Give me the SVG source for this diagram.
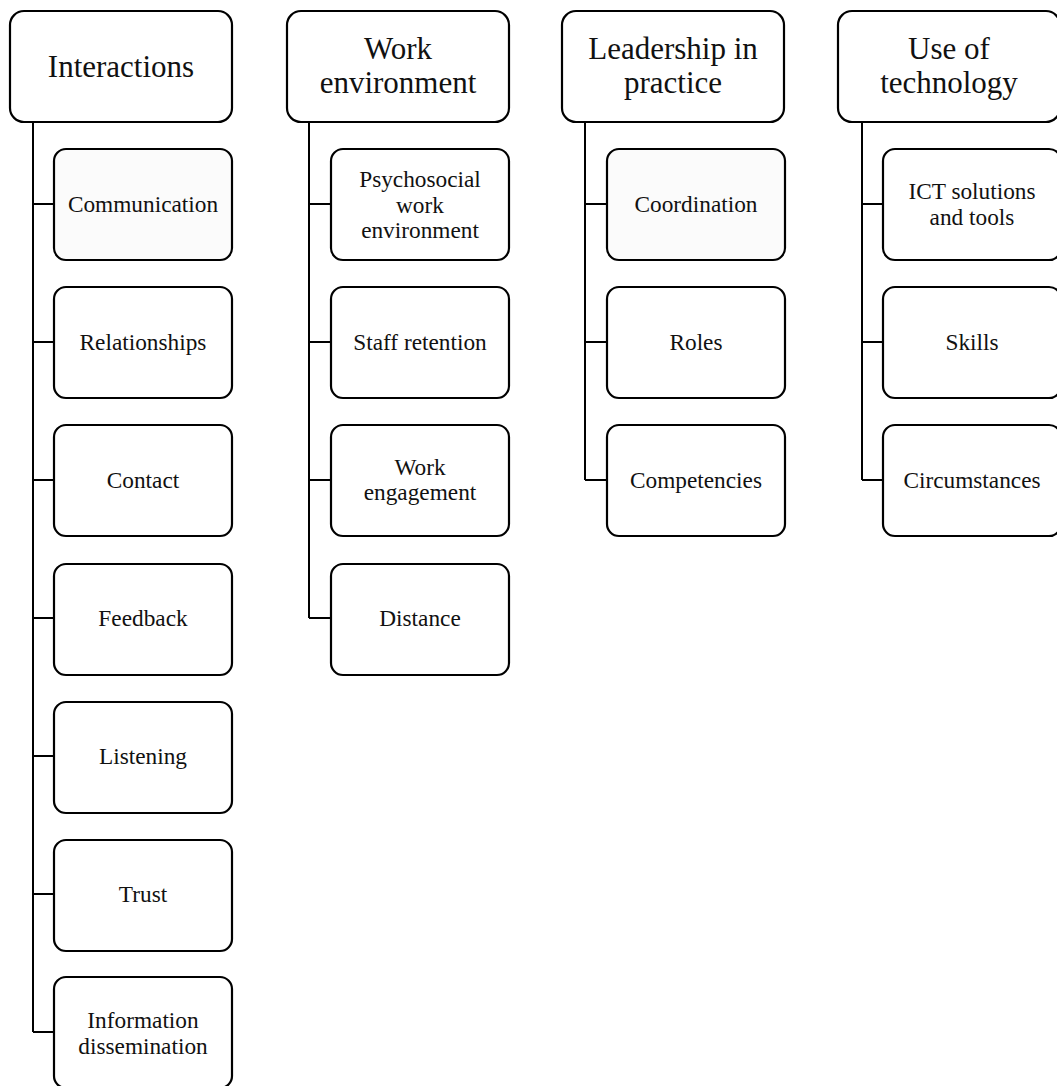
<svg xmlns="http://www.w3.org/2000/svg" width="1057" height="1086" viewBox="0 0 1057 1086">
<style>
.hd{fill:#fff;stroke:#000;stroke-width:2.2}
.ch{fill:#fff;stroke:#000;stroke-width:2.2}
.sh{fill:#fbfbfb}
.ht{font-family:"Liberation Serif","Times New Roman",serif;font-size:31px;fill:#111;text-anchor:middle}
.ct{font-family:"Liberation Serif","Times New Roman",serif;font-size:23.3px;fill:#111;text-anchor:middle}
.cn{fill:none;stroke:#000;stroke-width:2}
</style>
<rect width="1057" height="1086" fill="#fff"/>
<g id="connectors">
<path class="cn" d="M33 122V1032M33 204H54M33 342H54M33 480H54M33 618H54M33 756H54M33 894H54M33 1032H54"/>
<path class="cn" d="M309 122V618M309 204H331M309 342H331M309 480H331M309 618H331"/>
<path class="cn" d="M585 122V480M585 204H607M585 342H607M585 480H607"/>
<path class="cn" d="M862 122V480M862 204H883M862 342H883M862 480H883"/>
</g>
<g id="h-interactions"><rect class="hd" x="10" y="11" width="222" height="111" rx="14"/><text class="ht" x="121" y="77">Interactions</text></g>
<g id="h-work"><rect class="hd" x="287" y="11" width="222" height="111" rx="14"/><text class="ht" x="398" y="59">Work</text><text class="ht" x="398" y="92.5">environment</text></g>
<g id="h-leadership"><rect class="hd" x="562" y="11" width="222" height="111" rx="14"/><text class="ht" x="673" y="59">Leadership in</text><text class="ht" x="673" y="92.5">practice</text></g>
<g id="h-technology"><rect class="hd" x="838" y="11" width="222" height="111" rx="14"/><text class="ht" x="949" y="59">Use of</text><text class="ht" x="949" y="92.5">technology</text></g>

<g id="c-communication"><rect class="ch sh" x="54" y="149" width="178" height="111" rx="12"/><text class="ct" x="143" y="212">Communication</text></g>
<g id="c-relationships"><rect class="ch" x="54" y="287" width="178" height="111" rx="12"/><text class="ct" x="143" y="350">Relationships</text></g>
<g id="c-contact"><rect class="ch" x="54" y="425" width="178" height="111" rx="12"/><text class="ct" x="143" y="488">Contact</text></g>
<g id="c-feedback"><rect class="ch" x="54" y="564" width="178" height="111" rx="12"/><text class="ct" x="143" y="626">Feedback</text></g>
<g id="c-listening"><rect class="ch" x="54" y="702" width="178" height="111" rx="12"/><text class="ct" x="143" y="764">Listening</text></g>
<g id="c-trust"><rect class="ch" x="54" y="840" width="178" height="111" rx="12"/><text class="ct" x="143" y="902">Trust</text></g>
<g id="c-information"><rect class="ch" x="54" y="977" width="178" height="111" rx="12"/><text class="ct" x="143" y="1028">Information</text><text class="ct" x="143" y="1054">dissemination</text></g>

<g id="c-psychosocial"><rect class="ch" x="331" y="149" width="178" height="111" rx="12"/><text class="ct" x="420" y="187">Psychosocial</text><text class="ct" x="420" y="212.5">work</text><text class="ct" x="420" y="238">environment</text></g>
<g id="c-staff"><rect class="ch" x="331" y="287" width="178" height="111" rx="12"/><text class="ct" x="420" y="350">Staff retention</text></g>
<g id="c-engagement"><rect class="ch" x="331" y="425" width="178" height="111" rx="12"/><text class="ct" x="420" y="475">Work</text><text class="ct" x="420" y="500">engagement</text></g>
<g id="c-distance"><rect class="ch" x="331" y="564" width="178" height="111" rx="12"/><text class="ct" x="420" y="626">Distance</text></g>

<g id="c-coordination"><rect class="ch sh" x="607" y="149" width="178" height="111" rx="12"/><text class="ct" x="696" y="212">Coordination</text></g>
<g id="c-roles"><rect class="ch" x="607" y="287" width="178" height="111" rx="12"/><text class="ct" x="696" y="350">Roles</text></g>
<g id="c-competencies"><rect class="ch" x="607" y="425" width="178" height="111" rx="12"/><text class="ct" x="696" y="488">Competencies</text></g>

<g id="c-ict"><rect class="ch" x="883" y="149" width="178" height="111" rx="12"/><text class="ct" x="972" y="199">ICT solutions</text><text class="ct" x="972" y="225">and tools</text></g>
<g id="c-skills"><rect class="ch" x="883" y="287" width="178" height="111" rx="12"/><text class="ct" x="972" y="350">Skills</text></g>
<g id="c-circumstances"><rect class="ch" x="883" y="425" width="178" height="111" rx="12"/><text class="ct" x="972" y="488">Circumstances</text></g>
</svg>
